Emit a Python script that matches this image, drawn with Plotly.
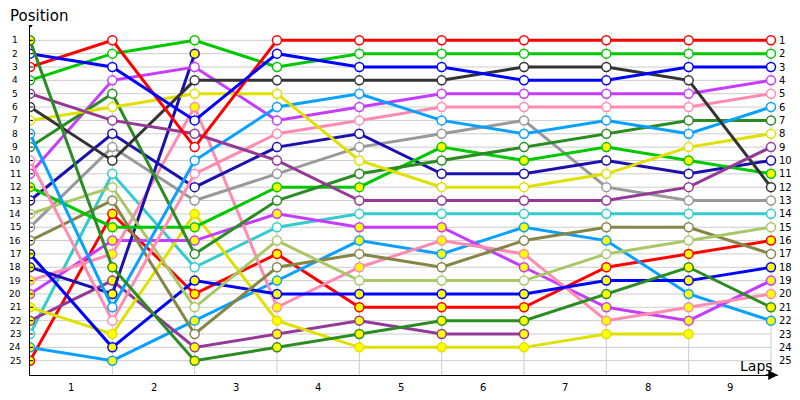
import plotly.graph_objects as go

laps = list(range(10))
lap_labels = ["1", "2", "3", "4", "5", "6", "7", "8", "9"]
positions = list(range(1, 26))

# positions per lap column (start + after each lap)
d01 = [1, 18, 25, 24, 23, 22, 22, 20, 18, 21]
d02 = [2, 3, 7, 2, 3, 3, 4, 4, 3, 3]
d03 = [3, 1, 9, 1, 1, 1, 1, 1, 1, 1]
d04 = [4, 2, 1, 3, 2, 2, 2, 2, 2, 2]
d05 = [5, 7, 8, 10, 13, 13, 13, 13, 12, 9]
d06 = [6, 10, 4, 4, 4, 4, 3, 3, 4, 12]
d07 = [7, 6, 5, 5, 10, 12, 12, 11, 9, 8]
d08 = [8, 21, 10, 6, 5, 7, 8, 7, 8, 6]
d09 = [9, 5, 17, 13, 11, 10, 9, 8, 7, 7]
d10 = [10, 22, 11, 8, 7, 6, 6, 6, 6, 5]
d11 = [11, 4, 3, 7, 6, 5, 5, 5, 5, 4]
d12 = [12, 15, 15, 12, 12, 9, 10, 9, 10, 11]
d13 = [13, 8, 12, 9, 8, 11, 11, 10, 11, 10]
d14 = [14, 12, 21, 16, 19, 19, 19, 17, 16, 15]
d15 = [15, 9, 13, 11, 9, 8, 7, 12, 13, 13]
d16 = [16, 13, 23, 18, 17, 18, 16, 15, 15, 17]
d17 = [17, 24, 19, 20, 20, 20, 20, 19, 19, 18]
d18 = [18, 20, 2, None, None, None, None, None, None, None]
d19 = [19, 17, 6, 21, 18, 16, 17, 22, 21, 20]
d20 = [20, 16, 16, 14, 15, 15, 18, 21, 22, 19]
d21 = [21, 23, 14, 22, 24, 24, 24, 23, 23, None]
d22 = [22, 19, 24, 23, 22, 23, 23, None, None, None]
d23 = [23, 11, 18, 15, 14, 14, 14, 14, 14, 14]
d24 = [24, 25, 22, 19, 16, 17, 15, 16, 20, 22]
d25 = [25, 14, 20, 17, 21, 21, 21, 18, 17, 16]

RED = "#FF0000"; BGREEN = "#00C800"; BLUE = "#0000FF"; FGREEN = "#2A8C22"
PURPLE = "#933A96"; DKGRAY = "#333333"; YELLOW = "#E0E000"; LTBLUE = "#0AA0FF"
PINK = "#FF8CB0"; MAGENTA = "#C63CFF"; DKBLUE = "#1A10B0"; LOLIVE = "#A8C868"
GRAY = "#999999"; OLIVE = "#858547"; CYAN = "#33CCCC"
WHITE = "#FFFFFF"; YFILL = "#FFFF00"

drivers = [
    (d01, FGREEN, YFILL), (d02, BLUE, WHITE), (d03, RED, WHITE), (d04, BGREEN, WHITE),
    (d05, PURPLE, WHITE), (d06, DKGRAY, WHITE), (d07, YELLOW, WHITE), (d08, LTBLUE, WHITE),
    (d09, FGREEN, WHITE), (d10, PINK, WHITE), (d11, MAGENTA, WHITE), (d12, BGREEN, YFILL),
    (d13, DKBLUE, WHITE), (d14, LOLIVE, WHITE), (d15, GRAY, WHITE), (d16, OLIVE, WHITE),
    (d17, BLUE, YFILL), (d18, DKBLUE, YFILL), (d19, PINK, YFILL), (d20, MAGENTA, YFILL),
    (d21, YELLOW, YFILL), (d22, PURPLE, YFILL), (d23, CYAN, WHITE), (d24, LTBLUE, YFILL),
    (d25, RED, YFILL),
]

XMAX = 9.085
YTOP = -0.146
YBOT = 26.07
FONT = "DejaVu Sans"

fig = go.Figure()
for vals, col, fill in reversed(drivers):
    fig.add_trace(go.Scatter(
        x=laps, y=vals, mode="lines+markers",
        line=dict(color=col, width=3),
        marker=dict(size=9, color=fill, line=dict(color=col, width=1.5)),
        showlegend=False, hoverinfo="skip",
    ))

shapes = []
for p in positions:
    shapes.append(dict(type="line", xref="x", yref="y", x0=laps[0], x1=laps[-1], y0=p, y1=p,
                       line=dict(color="#CCCCCC", width=1), layer="below"))
    shapes.append(dict(type="line", xref="x", yref="y", xsizemode="pixel", xanchor=0,
                       x0=-3, x1=3, y0=p, y1=p, line=dict(color="black", width=1)))
for c in laps[1:]:
    shapes.append(dict(type="line", xref="x", yref="y", x0=c, x1=c, y0=positions[0], y1=YBOT,
                       line=dict(color="#CCCCCC", width=1), layer="below"))
shapes.append(dict(type="circle", xref="x", yref="y", xsizemode="pixel", ysizemode="pixel",
                   xanchor=0, yanchor=YTOP, x0=-2, x1=2, y0=-2, y1=2,
                   fillcolor="black", line=dict(color="black", width=1)))

ann = []
for p in positions:
    ann.append(dict(x=0, y=p, xref="x", yref="y", text=str(p), showarrow=False,
                    xanchor="center", yanchor="middle", xshift=-15,
                    font=dict(family=FONT, size=9, color="black")))
    ann.append(dict(x=laps[-1], y=p, xref="x", yref="y", text=str(p), showarrow=False,
                    xanchor="left", yanchor="middle", xshift=6,
                    font=dict(family=FONT, size=10, color="black")))
for i, lab in enumerate(lap_labels):
    ann.append(dict(x=i + 0.5, y=0, xref="x", yref="paper", text=lab, showarrow=False,
                    xanchor="center", yanchor="middle", yshift=-12,
                    font=dict(family=FONT, size=10, color="black")))
ann.append(dict(x=0, y=1, xref="paper", yref="paper", text="Position", showarrow=False,
                xanchor="left", yanchor="bottom", xshift=-22, yshift=-2,
                font=dict(family=FONT, size=15, color="black")))
ann.append(dict(x=1, y=0, xref="paper", yref="paper", text="Laps", showarrow=False,
                xanchor="right", yanchor="bottom", xshift=-3, yshift=-1,
                font=dict(family=FONT, size=14, color="black")))
ann.append(dict(x=XMAX, y=YBOT, xref="x", yref="y", ax=-14, ay=0, text="", showarrow=True,
                arrowhead=2, arrowsize=1.3, arrowwidth=1.5, arrowcolor="black", standoff=0))

# page body has an 8px margin, so the plot area is offset to compensate
fig.update_layout(
    width=800, height=400,
    margin=dict(l=22, r=30, t=17, b=33),
    paper_bgcolor="white", plot_bgcolor="white",
    xaxis=dict(range=[0, XMAX], showgrid=False, zeroline=False, showticklabels=False,
               showline=True, linecolor="black", linewidth=1, fixedrange=True),
    yaxis=dict(range=[YBOT, YTOP], showgrid=False, zeroline=False, showticklabels=False,
               showline=True, linecolor="black", linewidth=1, fixedrange=True),
    shapes=shapes, annotations=ann,
)

fig.write_html("out.html")
